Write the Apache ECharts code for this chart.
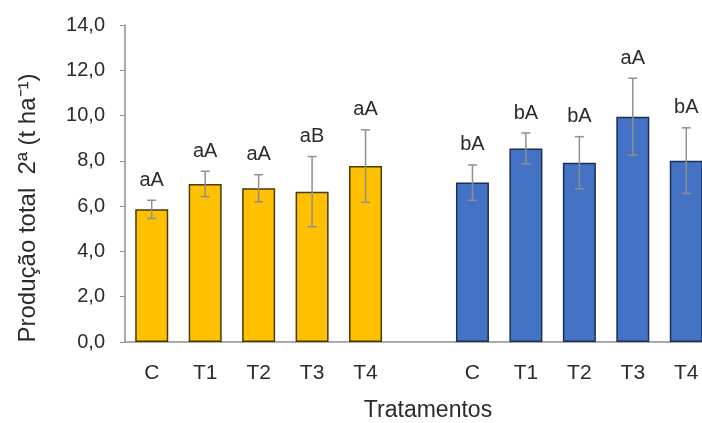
<!DOCTYPE html>
<html>
<head>
<meta charset="utf-8">
<script src="https://cdn.jsdelivr.net/npm/echarts@6/dist/echarts.min.js"></script>
<style>
  html, body { margin: 0; padding: 0; background: #fff; }
  #chart { width: 702px; height: 423px; }
</style>
</head>
<body>
<div id="chart"></div>
<script>
// categorias (com um espaço vazio entre os dois grupos)
var categories = ['C', 'T1', 'T2', 'T3', 'T4', '', 'C', 'T1', 'T2', 'T3', 'T4'];
var yTicks = [0, 2, 4, 6, 8, 10, 12, 14];

// grupo amarelo
var meansA = [5.86, 6.98, 6.79, 6.64, 7.77];
var sdA = [0.40, 0.56, 0.60, 1.55, 1.60];
var lettersA = ['aA', 'aA', 'aA', 'aB', 'aA'];

// grupo azul
var meansB = [7.04, 8.55, 7.92, 9.95, 8.01];
var sdB = [0.78, 0.68, 1.15, 1.70, 1.45];
var lettersB = ['bA', 'bA', 'bA', 'aA', 'bA'];

var font = 'Liberation Sans, Arial, sans-serif';

var barA = meansA.concat([null, null, null, null, null, null]);
var barB = [null, null, null, null, null, null].concat(meansB);

var errData = [];
for (var i = 0; i < meansA.length; i++) {
    errData.push([i, meansA[i], sdA[i], lettersA[i]]);
}
for (var j = 0; j < meansB.length; j++) {
    errData.push([j + 6, meansB[j], sdB[j], lettersB[j]]);
}

function renderErr(params, api) {
    var x = api.value(0);
    var m = api.value(1);
    var s = api.value(2);
    var top = api.coord([x, m + s]);
    var bot = api.coord([x, m - s]);
    var cap = 4.5;
    var st = { stroke: '#8f8f8f', lineWidth: 1.5 };
    return {
        type: 'group',
        children: [
            { type: 'line', shape: { x1: top[0], y1: top[1], x2: bot[0], y2: bot[1] }, style: st },
            { type: 'line', shape: { x1: top[0] - cap, y1: top[1], x2: top[0] + cap, y2: top[1] }, style: st },
            { type: 'line', shape: { x1: bot[0] - cap, y1: bot[1], x2: bot[0] + cap, y2: bot[1] }, style: st },
            {
                type: 'text',
                style: {
                    x: top[0], y: top[1] - 20,
                    text: errData[params.dataIndex][3],
                    align: 'center', verticalAlign: 'middle',
                    fill: '#2b2b2b', font: '20px ' + font
                }
            }
        ]
    };
}

var chart = echarts.init(document.getElementById('chart'));
chart.setOption({
    animation: false,
    backgroundColor: '#fff',
    grid: { left: 125, top: 25, width: 588, height: 317, outerBoundsMode: 'none', containLabel: false },
    xAxis: {
        type: 'category',
        data: categories,
        axisLine: { lineStyle: { color: '#8f8f8f', width: 1.5 } },
        axisTick: { show: false },
        axisLabel: { color: '#2b2b2b', fontSize: 21, fontFamily: font, margin: 21 }
    },
    yAxis: {
        type: 'value',
        min: yTicks[0],
        max: yTicks[yTicks.length - 1],
        interval: 2,
        splitLine: { show: false },
        axisLine: { show: true, lineStyle: { color: '#8f8f8f', width: 1.5 } },
        axisTick: { show: true, inside: false, length: 5, lineStyle: { color: '#8f8f8f' } },
        axisLabel: {
            color: '#2b2b2b', fontSize: 20, fontFamily: font, margin: 20,
            formatter: function (v) { return v.toFixed(1).replace('.', ','); }
        }
    },
    graphic: [
        {
            type: 'text',
            x: 428,
            y: 411,
            style: {
                text: 'Tratamentos', fill: '#2b2b2b', font: '23px ' + font,
                align: 'center', verticalAlign: 'middle'
            }
        },
        {
            type: 'text',
            x: 28,
            y: 208,
            rotation: Math.PI / 2,
            style: {
                text: 'Produção total  2ª (t ha⁻¹)', fill: '#2b2b2b', font: '24px ' + font,
                align: 'center', verticalAlign: 'middle'
            }
        }
    ],
    series: [
        {
            type: 'bar',
            data: barA,
            barWidth: 33,
            barGap: '-100%',
            itemStyle: { color: '#FFC000', borderColor: '#4a3900', borderWidth: 1.5 }
        },
        {
            type: 'bar',
            data: barB,
            barWidth: 33,
            barGap: '-100%',
            itemStyle: { color: '#4472C4', borderColor: '#1c2f55', borderWidth: 1.5 }
        },
        {
            type: 'custom',
            data: errData,
            renderItem: renderErr,
            encode: { x: 0, y: 1 },
            z: 10
        }
    ]
});
</script>
</body>
</html>
